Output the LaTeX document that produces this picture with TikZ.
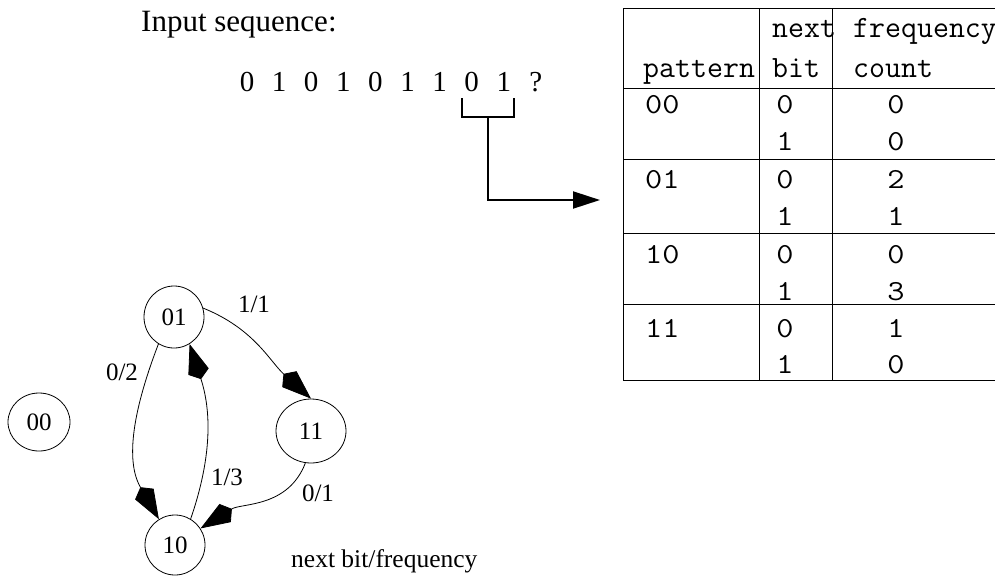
\documentclass[tikz,border=0pt]{standalone}
\usepackage{fontspec}
\setmainfont{Liberation Serif}
\newfontfamily\headmono{Latin Modern Mono}
\newfontfamily\bodymono[FakeStretch=1.15]{Latin Modern Mono}
\usetikzlibrary{arrows.meta,shapes.geometric}

\begin{document}
\begin{tikzpicture}[x=1pt,y=-1pt,
  state/.style={draw, ellipse, line width=0.8pt, inner sep=0pt,
    minimum width=60pt, minimum height=60pt,
    font=\fontsize{25}{25}\selectfont},
  edge/.style={line width=0.8pt,
    -{Stealth[length=29pt,width=21pt,inset=-8pt]}},
  elabel/.style={font=\fontsize{25}{25}\selectfont, inner sep=0pt},
  seq/.style={font=\fontsize{29}{29}\selectfont, anchor=base, inner sep=0pt},
  grid/.style={line width=0.9pt},
  head/.style={font=\headmono\fontsize{31}{31}\selectfont, anchor=base west, inner sep=0pt},
  cell/.style={font=\bodymono\fontsize{29}{29}\selectfont, anchor=base, inner sep=0pt},
  pat/.style={font=\bodymono\fontsize{29}{29}\selectfont, anchor=base west, inner sep=0pt},
  bracket/.style={line width=2pt},
]
\useasboundingbox (0,0) rectangle (995,576);

% input sequence
\node[anchor=base west, inner sep=0pt, font=\fontsize{31}{31}\selectfont]
  (title) at (141,31) {Input sequence:};
\foreach \b [count=\i from 0] in {0,1,0,1,0,1,1,0,1,?} {
  \node[seq] (s\i) at (247+32.1*\i,91) {\b};
}

% bracket over the last two bits and the arrow into the table
\coordinate (bl) at (462,98);
\coordinate (br) at (514,98);
\coordinate (bm) at (488,117);
\coordinate (tin) at (600,200);
\draw[bracket] (bl) |- (bm) -| (br);
\draw[bracket, -{Triangle[length=27pt,width=17pt]}] (bm) |- (tin);

% table rules
\draw[grid] (623,8) -- (995,8);
\foreach \y in {88,159,233,304,380} \draw[grid] (623,\y) -- (995,\y);
\foreach \x in {623,759,832} \draw[grid] (\x,8) -- (\x,380);

% table header
\node[head] (hnext) at (772,37) {next};
\node[head] (hbit) at (772,77) {bit};
\node[head] (hfreq) at (853,37) {frequency};
\node[head] (hcount) at (853,77) {count};
\node[head] (hpat) at (643,77) {pattern};

% table body
\foreach \p/\ya/\yb/\ca/\cb in {00/113/150/0/0, 01/188/225/2/1, 10/263/300/0/3, 11/337/373/1/0} {
  \node[pat] (p\p) at (645,\ya) {\p};
  \node[cell] (b\p a) at (785,\ya) {0};
  \node[cell] (b\p b) at (785,\yb) {1};
  \node[cell] (c\p a) at (896,\ya) {\ca};
  \node[cell] (c\p b) at (896,\yb) {\cb};
}

% state graph
\node[state, minimum width=62pt, minimum height=58pt] (n00) at (39,422) {00};
\node[state, minimum height=62pt] (n01) at (174,317) {01};
\node[state, minimum width=70pt, minimum height=64pt] (n11) at (311,431) {11};
\node[state] (n10) at (175,545) {10};

\draw[edge] (n01.17) to[out=-22, in=138] (n11.north);
\draw[edge] (n01.-120) to[out=-111, in=120] (n10.122);
\draw[edge] (n10.59) to[out=71, in=-72] (n01.-60);
\draw[edge] (n11.-100) to[out=-111, in=32] (n10.33);

\node[elabel] (l11) at (254,304) {1/1};
\node[elabel] (l02) at (122,372) {0/2};
\node[elabel] (l13) at (227,477) {1/3};
\node[elabel] (l01) at (318,493) {0/1};
\node[anchor=base west, inner sep=0pt, font=\fontsize{25.5}{25.5}\selectfont]
  (legend) at (291,567) {next bit/frequency};
\end{tikzpicture}
\end{document}
